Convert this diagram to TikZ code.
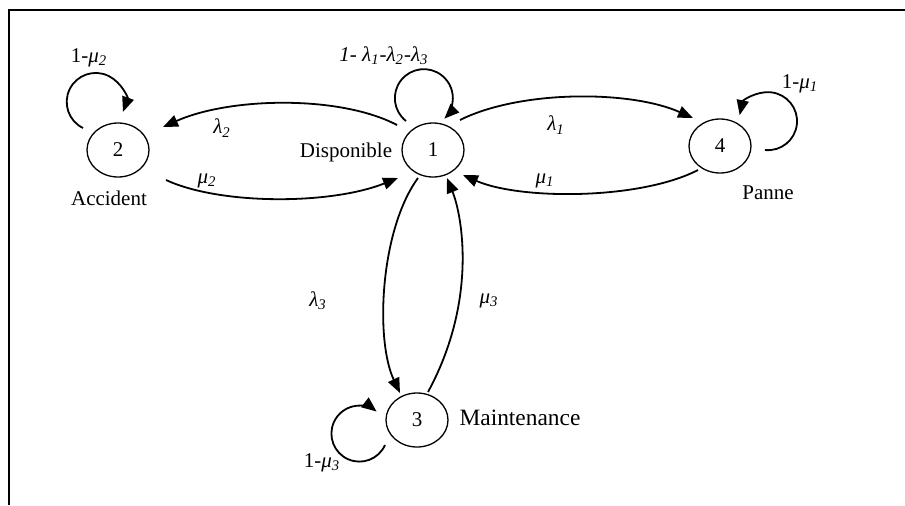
\documentclass[tikz,border=0pt]{standalone}
\usepackage{fontspec}
\setmainfont{Liberation Serif}
\usetikzlibrary{arrows.meta,shapes.geometric}
\begin{document}
\begin{tikzpicture}[x=0.5pt,y=-0.5pt,
  state/.style={draw,ellipse,line width=0.65pt,minimum width=31pt,minimum height=27pt,inner sep=0pt,font=\fontsize{10.5}{12}\selectfont},
  lbl/.style={font=\fontsize{10.5}{12}\selectfont,inner sep=0pt},
  arr/.style={line width=0.9pt,-{Triangle[length=7.5pt,width=6pt]}},
  frameline/.style={line width=1pt}]
\useasboundingbox (0,0) rectangle (905,505);
% frame
\coordinate (tl) at (9,10);
\coordinate (tr) at (905,10);
\coordinate (bl) at (9,505);
\draw[frameline] (tr) -- (tl) -- (bl);
% states
\node[state] (n1) at (433,150) {1};
\node[state] (n2) at (118,150) {2};
\node[state] (n3) at (417,420) {3};
\node[state] (n4) at (720,146) {4};
% state names
\node[lbl] (accident) at (109,198) {Accident};
\node[lbl] (disponible) at (346,152) {Disponible};
\node[lbl] (panne) at (768,193) {Panne};
\node[lbl,font=\fontsize{11.7}{13}\selectfont] (maintenance) at (520,418) {Maintenance};
% transitions
\draw[arr] ([shift={(-36,-25)}]n1.center) .. controls (340,95) and (230,97) .. ([shift={(45,-23)}]n2.center);
\draw[arr] ([shift={(48,30)}]n2.center) .. controls (220,205) and (330,205) .. ([shift={(-35,28)}]n1.center);
\draw[arr] ([shift={(27,-30)}]n1.center) .. controls (520,90) and (630,90) .. ([shift={(-27,-28)}]n4.center);
\draw[arr] ([shift={(-22,24)}]n4.center) .. controls (640,200) and (520,200) .. ([shift={(30,25)}]n1.center);
\draw[arr] ([shift={(-15,28)}]n1.center) .. controls (380,230) and (375,340) .. ([shift={(-17,-27)}]n3.center);
\draw[arr] ([shift={(11,-28)}]n3.center) .. controls (478,300) and (462,215) .. ([shift={(14,28)}]n1.center);
% self loops
\draw[arr] ([shift={(-27,-29)}]n1.center) arc[start angle=128,end angle=405,radius=29];
\draw[arr] ([shift={(-35,-22)}]n2.center) arc[start angle=116,end angle=380,radius=29];
\draw[arr] ([shift={(45,4)}]n4.center) arc[start angle=96,end angle=-168,radius=29];
\draw[arr] ([shift={(-32,25)}]n3.center) arc[start angle=24,end angle=308,radius=28];
% labels
\node[lbl] (l2) at (222,128) {\textit{λ\textsubscript{2}}};
\node[lbl] (m2) at (207,181) {\textit{μ\textsubscript{2}}};
\node[lbl] (l1) at (556,125) {\textit{λ\textsubscript{1}}};
\node[lbl] (m1) at (545,181) {\textit{μ\textsubscript{1}}};
\node[lbl] (l3) at (318,301) {\textit{λ\textsubscript{3}}};
\node[lbl] (m3) at (489,301) {\textit{μ\textsubscript{3}}};
\node[lbl] (s2) at (89,58) {1-\textit{μ\textsubscript{2}}};
\node[lbl] (s1) at (384,56) {\textit{1- λ\textsubscript{1}-λ\textsubscript{2}-λ\textsubscript{3}}};
\node[lbl] (s4) at (800,84) {1-\textit{μ\textsubscript{1}}};
\node[lbl] (s3) at (322,463) {1-\textit{μ\textsubscript{3}}};
\end{tikzpicture}
\end{document}
